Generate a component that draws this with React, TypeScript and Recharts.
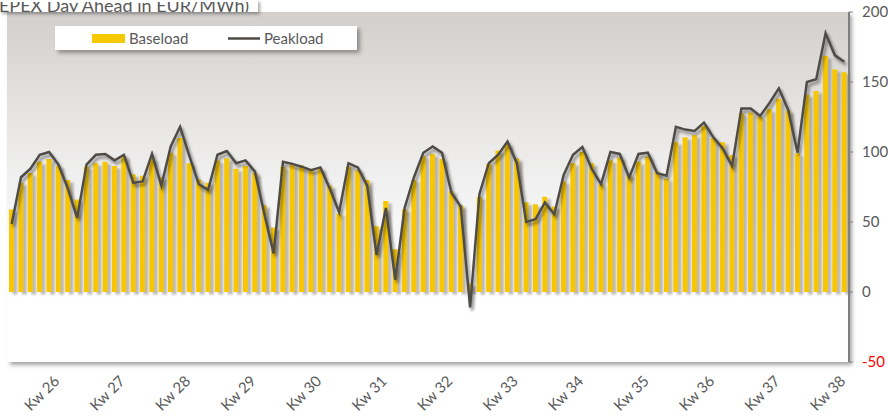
import React from 'react';
import { ComposedChart, Bar, Line, XAxis, YAxis, CartesianGrid, ReferenceLine } from 'recharts';

const days: string[] = Array.from({ length: 90 }, (_, i) => `Tag ${i + 1}`);

const baseload: number[] = [
  59, 78, 85, 93, 95, 90, 80, 66, 89.5, 92,
  93, 90, 97, 84, 83, 95, 82, 99.5, 110, 92,
  80.5, 78, 94, 95.5, 88, 90, 85, 62, 46, 89.5,
  91, 90.5, 88, 88, 76, 56, 89.5, 87, 80, 47,
  65, 30.5, 59, 80, 97, 98.6, 95, 72, 62, 6,
  68, 91.4, 101, 105.7, 95.5, 64, 62.6, 68, 61, 79,
  92, 100, 92, 77, 94, 96, 83.6, 93, 96.7, 86,
  81, 107, 110.5, 112, 118.6, 110, 107, 97.9, 127.6, 128,
  125, 130.5, 138, 129.5, 99, 141, 143.6, 168.6, 159, 157,
];

const peakload: number[] = [
  48.6, 82, 88, 98, 100, 91, 74, 53, 91, 98,
  98.6, 94, 98, 78, 79, 98.6, 76, 104, 118, 97,
  77, 73, 98, 100.7, 92, 94, 86, 56, 27.6, 93,
  91.5, 89.5, 87, 89, 74, 57, 92, 89, 76, 26.4,
  60, 8.6, 60, 82, 99.5, 104, 99.5, 71, 61, -11,
  70, 92, 98, 107.4, 92, 50, 52, 64, 55.5, 83.6,
  98, 103.5, 88, 77, 100, 98.6, 81.7, 98.6, 99.5, 84.8,
  83, 118, 116, 115, 121, 110.5, 102.6, 90, 131, 131,
  125.7, 135, 145.5, 130, 99.5, 150, 152, 184.8, 169, 164.5,
];

const weekLabels: string[] = [
  'Kw 26', 'Kw 27', 'Kw 28', 'Kw 29', 'Kw 30', 'Kw 31', 'Kw 32',
  'Kw 33', 'Kw 34', 'Kw 35', 'Kw 36', 'Kw 37', 'Kw 38',
];
const firstLabelDay = 5;
const daysPerWeek = 7;

const yTicks: number[] = [-50, 0, 50, 100, 150, 200];

const labelByDay: Record<string, string> = {};
weekLabels.forEach((w, k) => {
  const idx = firstLabelDay + k * daysPerWeek;
  if (idx < days.length) labelByDay[days[idx]] = w;
});

const data = days.map((d, i) => ({ day: d, base: baseload[i], peak: peakload[i] }));

const FONT = 'Lato, "Open Sans", sans-serif';
const TEXT = '#595959';

const WeekTick = (props: any) => {
  const { x, y, payload } = props;
  const label = labelByDay[payload.value];
  if (!label) return <g />;
  const tx = x + 2;
  const ty = y + 12;
  return (
    <text x={tx} y={ty} textAnchor="end" fill={TEXT} fontSize={15} fontFamily={FONT}
      transform={`rotate(-45, ${tx}, ${ty})`}>
      {label}
    </text>
  );
};

const ValueTick = (props: any) => {
  const { x, y, payload } = props;
  return (
    <text x={x} y={y} dy={5} textAnchor="start" fill={payload.value < 0 ? '#ff0000' : TEXT}
      fontSize={15} fontFamily={FONT}>
      {payload.value}
    </text>
  );
};

const BarShape = (props: any) => {
  const { x, y, width, height } = props;
  if (!height || height <= 0) return <g />;
  return (
    <g>
      <rect x={x + 3.5} y={y + 2.5} width={width} height={height} fill="#8f8a84" opacity={0.6} filter="url(#blurSoft)" />
      <rect x={x} y={y} width={width} height={height} fill="#f7c600" />
    </g>
  );
};

export default function App() {
  return (
    <div style={{ position: 'absolute', left: 0, top: 0, width: 888, height: 418, background: '#fff', overflow: 'hidden' }}>
      <svg width={0} height={0} style={{ position: 'absolute' }}>
        <defs>
          <linearGradient id="plotBg" x1="0" y1="0" x2="0" y2="1">
            <stop offset="0" stopColor="#d2cfcc" />
            <stop offset="0.3" stopColor="#e6e5e3" />
            <stop offset="0.5" stopColor="#f1f1f1" />
            <stop offset="0.68" stopColor="#fcfcfc" />
            <stop offset="0.8" stopColor="#ffffff" />
            <stop offset="1" stopColor="#ffffff" />
          </linearGradient>
          <filter id="blurSoft" x="-50%" y="-5%" width="200%" height="110%">
            <feGaussianBlur stdDeviation="0.8" />
          </filter>
          <filter id="lineShadow" x="-5%" y="-10%" width="110%" height="120%">
            <feDropShadow dx="2" dy="3" stdDeviation="1.5" floodColor="#000" floodOpacity="0.45" />
          </filter>
          <filter id="axisShadow" x="-50%" y="-50%" width="200%" height="200%">
            <feDropShadow dx="2" dy="3" stdDeviation="1.5" floodColor="#000" floodOpacity="0.35" />
          </filter>
        </defs>
      </svg>
      <div style={{ position: 'absolute', left: 7, top: 12, width: 842, height: 350, background: '#fff', boxShadow: '3px 3px 4px rgba(0,0,0,0.35)' }} />
      <div style={{ position: 'absolute', left: 0, top: 0 }}>
        <ComposedChart width={888} height={418} data={data} margin={{ top: 12, right: 9, bottom: 6, left: 7 }} barCategoryGap={0}>
          <CartesianGrid horizontal={false} vertical={false} fill="url(#plotBg)" fillOpacity={1} />
          <XAxis dataKey="day" interval={0} tick={<WeekTick />} axisLine={false} tickLine={false} height={50} />
          <YAxis orientation="right" domain={[-50, 200]} ticks={yTicks} width={30} tickSize={4} tickMargin={9}
            axisLine={{ stroke: '#7f7f7f', strokeWidth: 2 }} tickLine={{ stroke: '#7f7f7f' }} tick={<ValueTick />} />
          <Bar dataKey="base" barSize={5} shape={<BarShape />} isAnimationActive={false} />
          <ReferenceLine y={0} stroke="#7b7466" strokeWidth={2} filter="url(#axisShadow)" />
          <Line type="linear" dataKey="peak" stroke="#4f4b47" strokeWidth={2.5} dot={false} activeDot={false}
            filter="url(#lineShadow)" isAnimationActive={false} />
        </ComposedChart>
      </div>
      <div style={{ position: 'absolute', left: 0, top: 0, width: 258, height: 12, background: '#fff', boxShadow: '2px 2px 3px rgba(0,0,0,0.35)', overflow: 'hidden' }}>
        <svg width={258} height={12}>
          <text x={249} y={10} textAnchor="end" fill={TEXT} fontSize={18} fontFamily={FONT}>EPEX Day Ahead in EUR/MWh)</text>
        </svg>
      </div>
      <div style={{ position: 'absolute', left: 55, top: 26, width: 302, height: 24, background: '#fff', boxShadow: '3px 3px 4px rgba(0,0,0,0.35)' }}>
        <svg width={302} height={24}>
          <rect x={37} y={8} width={33} height={9} fill="#f5c800" />
          <text x={74} y={17.5} fill={TEXT} fontSize={15} fontFamily={FONT}>Baseload</text>
          <line x1={173} y1={12.5} x2={205} y2={12.5} stroke="#4f4b47" strokeWidth={2.5} />
          <text x={209} y={17.5} fill={TEXT} fontSize={15} fontFamily={FONT}>Peakload</text>
        </svg>
      </div>
    </div>
  );
}
